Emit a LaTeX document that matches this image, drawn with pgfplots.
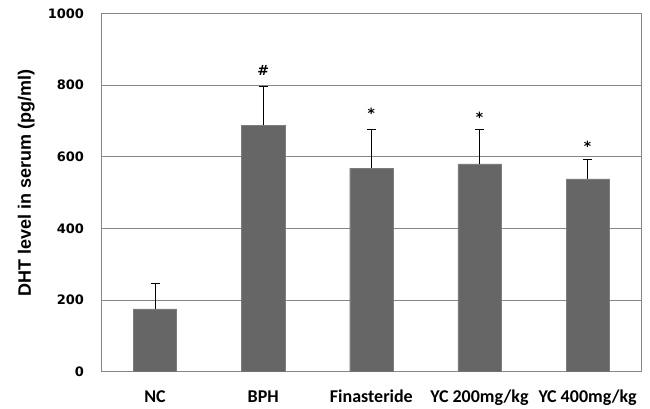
\documentclass[border=0pt]{standalone}
\usepackage{fontspec}
\setmainfont{DejaVu Sans}
\newfontfamily\labelfont{Liberation Sans}
\newfontfamily\catfont{Carlito}
\usepackage{pgfplots}
\usepackage{pgfplotstable}
\pgfplotsset{compat=1.18}

\definecolor{barcol}{RGB}{102,102,102}
\definecolor{gridcol}{RGB}{134,134,134}

\pgfplotstableread{
x y err
0 175 72
1 688 109
2 568 108
3 580 96
4 538 53
}\dhtdata

\begin{document}
\begin{tikzpicture}
\begin{axis}[
name=main,
scale only axis,
width=540.7pt, height=358.4pt,
xmin=-0.5, xmax=4.5,
ymin=0, ymax=1000,
ytick={0,200,...,1000},
xtick={0,...,4},
xticklabels={NC,BPH,Finasteride,YC 200mg/kg,YC 400mg/kg},
major tick length=0pt,
axis line style={gridcol, line width=0.8pt},
ymajorgrids,
grid style={gridcol, line width=0.8pt},
/pgf/number format/assume math mode=true,
/pgf/number format/1000 sep={},
yticklabel style={font=\bfseries\fontsize{13}{13}\selectfont, anchor=east, xshift=-13.5pt},
xticklabel style={font=\catfont\bfseries\fontsize{18}{18}\selectfont, anchor=base, yshift=-31pt},
ylabel={DHT level in serum (pg/ml)},
ylabel style={font=\labelfont\bfseries\fontsize{18}{18}\selectfont, at={(axis description cs:-0.1295,0.526)}, anchor=base},
]
\addplot[ybar, bar width=0.4, fill=barcol, draw=barcol!85,
  error bars/.cd, y dir=plus, y explicit,
  error bar style={black, line width=0.8pt},
  error mark options={black, rotate=90, mark size=4.5pt, line width=0.8pt}]
  table[x=x, y=y, y error=err]{\dhtdata};
\addplot[draw=none, mark=none, forget plot,
  nodes near coords, point meta=explicit symbolic,
  every node near coord/.append style={anchor=center, font=\bfseries\fontsize{14}{14}\selectfont, inner sep=0pt}]
  coordinates {(1,841) [\#] (2,720) [*] (3,710) [*] (4,629) [*]};
\end{axis}
\pgfresetboundingbox
\path (main.south west) ++(-101pt,-36.3pt) rectangle ++(650pt,408pt);
\end{tikzpicture}
\end{document}
